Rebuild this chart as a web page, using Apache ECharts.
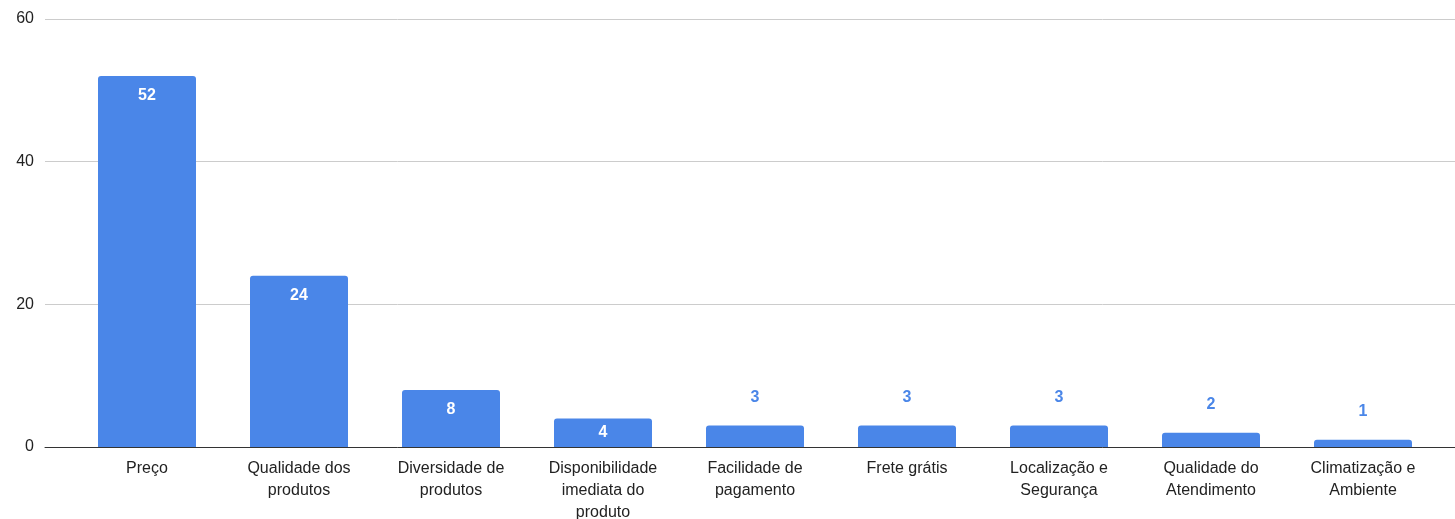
<!DOCTYPE html>
<html>
<head>
<meta charset="utf-8">
<script src="https://cdn.jsdelivr.net/npm/echarts@6/dist/echarts.min.js"></script>
<style>
  html, body { margin: 0; padding: 0; background: #fff; }
  #chart { width: 1455px; height: 519px; }
</style>
</head>
<body>
<div id="chart"></div>
<script>
// categorias e valores
var categorias = [
    'Preço',
    'Qualidade dos\nprodutos',
    'Diversidade de\nprodutos',
    'Disponibilidade\nimediata do\nproduto',
    'Facilidade de\npagamento',
    'Frete grátis',
    'Localização e\nSegurança',
    'Qualidade do\nAtendimento',
    'Climatização e\nAmbiente'
];
var valores = [52, 24, 8, 4, 3, 3, 3, 2, 1];
var yTicks = [0, 20, 40, 60];

var azul = '#4a86e8';

// rótulo: dentro da barra quando cabe, acima quando a barra é baixa
function rotulo(v) {
    if (v >= 8) {
        return { position: 'insideTop', distance: 12, color: '#fff' };
    }
    if (v >= 4) {
        return { position: 'inside', color: '#fff' };
    }
    return { position: 'top', distance: 20, color: azul };
}

var dados = valores.map(function (v) {
    return { value: v, label: rotulo(v) };
});

var chart = echarts.init(document.getElementById('chart'));

var option = {
    backgroundColor: '#fff',
    animation: false,
    textStyle: { fontFamily: 'Liberation Sans, Arial, sans-serif' },
    grid: [
        // grade das linhas de fundo (mais larga)
        { left: 45, right: 0, top: 19, bottom: 72, outerBoundsMode: 'none', containLabel: false },
        // grade das barras
        { left: 71, right: 16, top: 19, bottom: 72, outerBoundsMode: 'none', containLabel: false }
    ],
    xAxis: [
        {
            gridIndex: 0,
            type: 'category',
            data: [''],
            axisLine: { show: true, lineStyle: { color: '#333', width: 1 } },
            axisTick: { show: false },
            axisLabel: { show: false }
        },
        {
            gridIndex: 1,
            type: 'category',
            data: categorias,
            axisLine: { show: false },
            axisTick: { show: false },
            axisLabel: {
                interval: 0,
                margin: 11,
                fontSize: 16,
                lineHeight: 22,
                color: '#222',
                fontFamily: 'Liberation Sans, Arial, sans-serif'
            }
        }
    ],
    yAxis: [
        {
            gridIndex: 0,
            type: 'value',
            min: yTicks[0],
            max: yTicks[yTicks.length - 1],
            interval: 20,
            axisLine: { show: false },
            axisTick: { show: false },
            axisLabel: {
                margin: 11,
                fontSize: 16,
                padding: [4, 0, 0, 0],
                color: '#222',
                fontFamily: 'Liberation Sans, Arial, sans-serif'
            },
            splitLine: { lineStyle: { color: '#cccccc', width: 1 } }
        },
        {
            gridIndex: 1,
            type: 'value',
            min: yTicks[0],
            max: yTicks[yTicks.length - 1],
            interval: 20,
            show: false,
            splitLine: { show: false }
        }
    ],
    series: [
        {
            type: 'bar',
            xAxisIndex: 1,
            yAxisIndex: 1,
            data: dados,
            barWidth: 98,
            itemStyle: { color: azul, borderRadius: [3, 3, 0, 0] },
            label: {
                show: true,
                fontSize: 16,
                fontWeight: 'bold',
                fontFamily: 'Liberation Sans, Arial, sans-serif'
            }
        }
    ]
};

chart.setOption(option);
</script>
</body>
</html>
